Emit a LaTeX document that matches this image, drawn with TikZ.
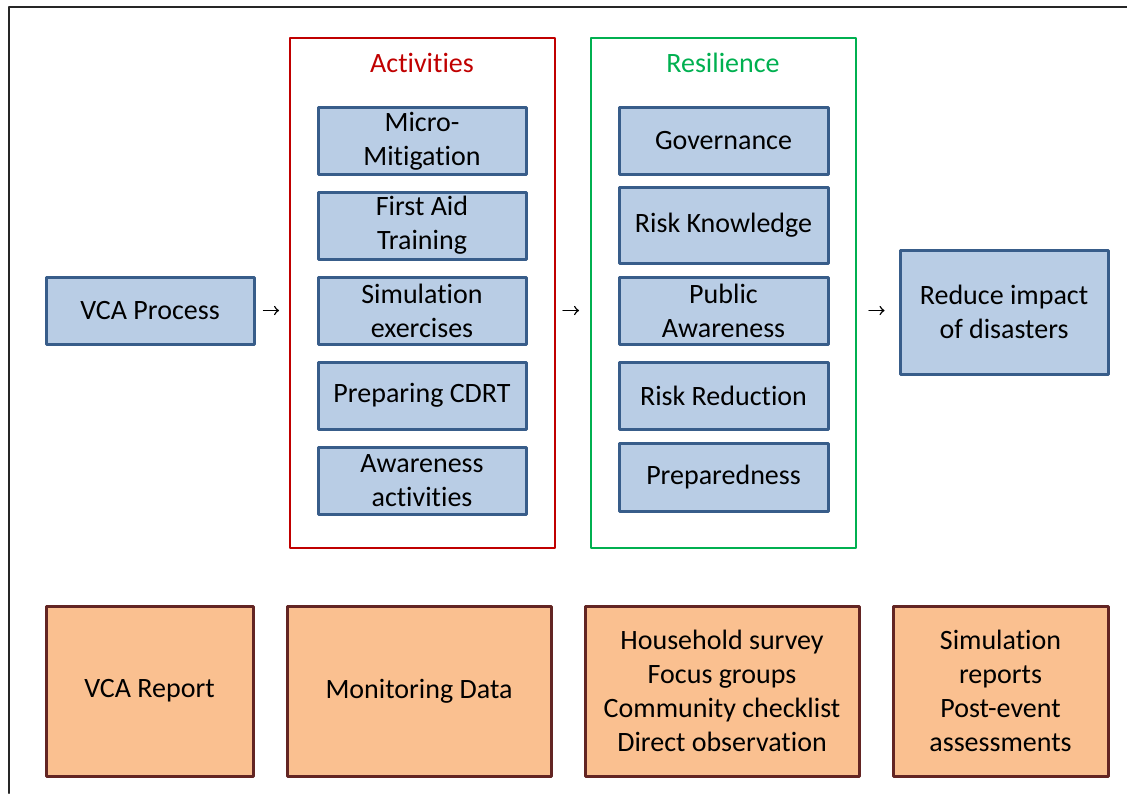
\documentclass[tikz,border=0pt]{standalone}
\usepackage{fontspec}
\setmainfont[Ligatures=NoCommon]{Carlito}
\usetikzlibrary{arrows}
\usetikzlibrary{positioning}
\definecolor{boxblue}{HTML}{B9CDE5}
\definecolor{lineblue}{HTML}{385D8A}
\definecolor{boxorange}{HTML}{FAC090}
\definecolor{linebrown}{HTML}{632523}
\definecolor{actred}{HTML}{C00000}
\definecolor{resgreen}{HTML}{00B050}
\begin{document}
\begin{tikzpicture}[line cap=round,line join=round,>=to,x=0.5pt,y=-0.5pt,
  every node/.style={font=\fontsize{14}{17}\selectfont,align=center,inner sep=0pt},
  bluebox/.style={draw=lineblue,fill=boxblue,line width=1.5pt,minimum width=104pt,minimum height=33.5pt},
  orangebox/.style={draw=linebrown,fill=boxorange,line width=1.5pt,minimum height=85pt},
  groupframe/.style={line width=1pt,minimum width=132.5pt,minimum height=255pt},
  flow/.style={->,line width=0.75pt}]
\useasboundingbox (0,0) rectangle (1127,793);
% outer frame
\draw [line width=1pt,color=black!85] (9,793)-- (9,7)-- (1127,7);
% group frames
\node [groupframe,draw=actred] (actframe) at (422.5,293) {};
\node [groupframe,draw=resgreen] (resframe) at (723.5,293) {};
\node [text=actred] (acttitle) at (422,63) {Activities};
\node [text=resgreen] (restitle) at (723,63) {Resilience};
% process and outcome
\node [bluebox] (vca) at (150,310.5) {VCA Process};
\node [bluebox,minimum height=62pt] (impact) at (1004,312) {Reduce impact\\of disasters};
% activities
\node [bluebox] (micro) at (422,141) {Micro-\\Mitigation};
\node [bluebox] (firstaid) at (422,225.5) {First Aid\\Training};
\node [bluebox] (simex) at (422,310.5) {Simulation\\exercises};
\node [bluebox] (cdrt) at (422,395.5) {Preparing CDRT};
\node [bluebox] (awareact) at (422,480.5) {Awareness\\activities};
% resilience
\node [bluebox,minimum width=104.5pt] (gov) at (723.5,140.5) {Governance};
\node [bluebox,minimum width=104.5pt,minimum height=38pt] (riskknow) at (723.5,225) {Risk Knowledge};
\node [bluebox,minimum width=104.5pt] (pubaware) at (723.5,310.5) {Public\\Awareness};
\node [bluebox,minimum width=104.5pt] (riskred) at (723.5,395.5) {Risk Reduction};
\node [bluebox,minimum width=104.5pt,minimum height=34pt] (prep) at (723.5,477) {Preparedness};
% arrows
\draw [flow,shorten <=4pt,shorten >=5pt] (vca.east|-simex) -- (actframe.west|-simex);
\draw [flow,shorten <=3.5pt,shorten >=5.5pt] (actframe.east|-simex) -- (resframe.west|-simex);
\draw [flow,shorten <=6pt,shorten >=7pt] (resframe.east|-simex) -- (impact.west|-simex);
% data sources
\node [orangebox,minimum width=103.5pt] (report) at (149.5,691) {VCA Report};
\node [orangebox,minimum width=132pt] (monitor) at (419,691) {Monitoring Data};
\node [orangebox,minimum width=137pt] (survey) at (722,691) {Household survey\\Focus groups\\Community checklist\\Direct observation};
\node [orangebox,minimum width=107.5pt] (simrep) at (1000.5,691) {Simulation\\reports\\Post-event\\assessments};
\end{tikzpicture}
\end{document}
